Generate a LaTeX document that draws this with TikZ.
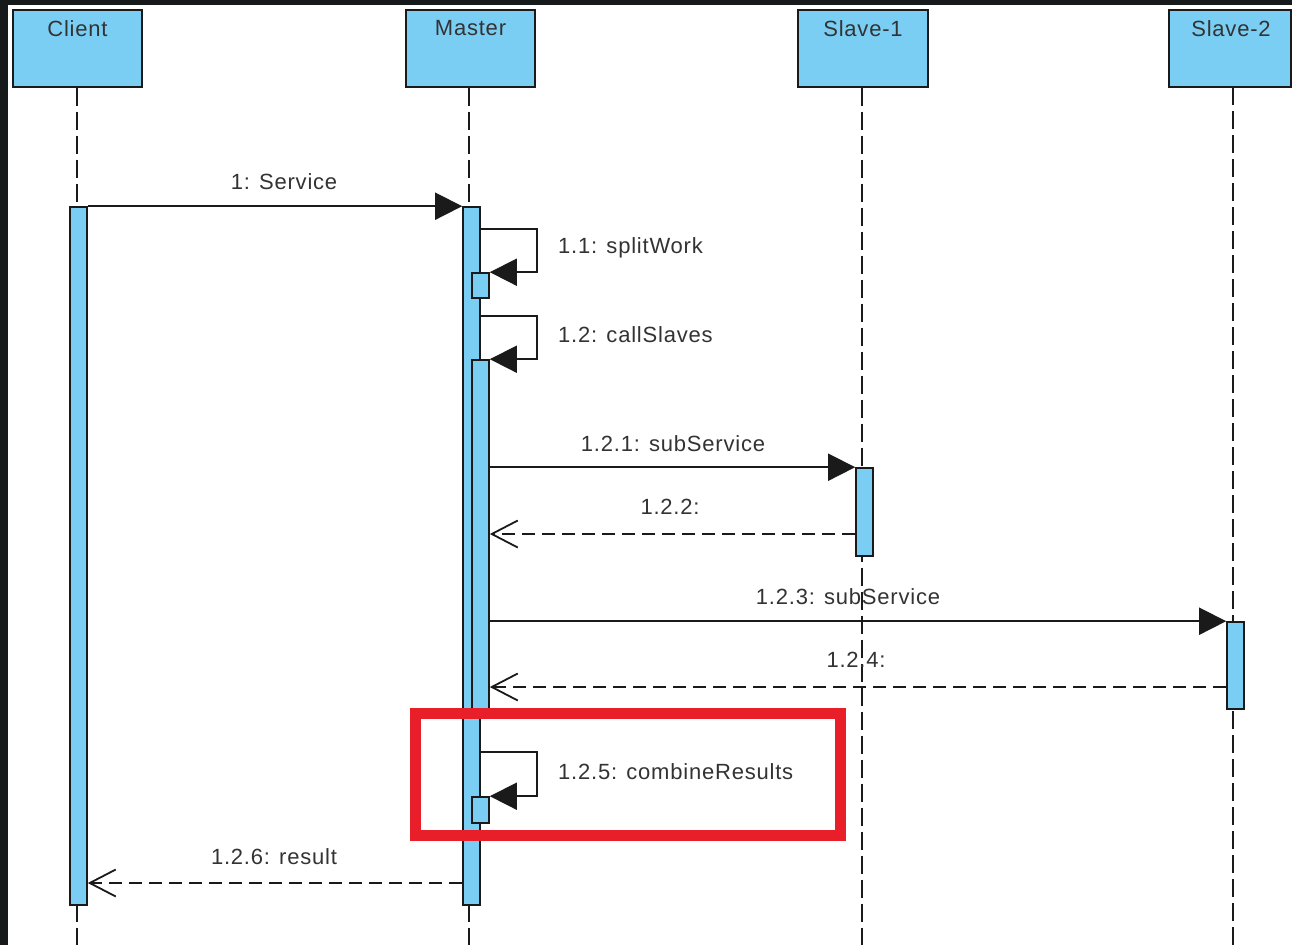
\documentclass[tikz,border=0pt]{standalone}
\usepackage{fontspec}
\setmainfont{Liberation Sans}
\usetikzlibrary{arrows.meta}
\definecolor{lifeblue}{RGB}{122,206,244}
\definecolor{ink}{RGB}{26,26,26}
\definecolor{txt}{RGB}{51,51,51}
\definecolor{frame}{RGB}{22,26,26}
\definecolor{hl}{RGB}{232,30,40}
\begin{document}
\begin{tikzpicture}[x=1pt,y=-1pt,
  head/.style={draw=ink, line width=1.6pt, fill=lifeblue, rectangle, inner sep=0pt, minimum height=77pt},
  bar/.style={draw=ink, line width=1.6pt, fill=lifeblue, rectangle, inner sep=0pt, minimum width=17pt},
  life/.style={draw=ink, line width=1.6pt, dash pattern=on 18pt off 6pt},
  msg/.style={draw=ink, line width=1.8pt, -{Triangle[length=27pt,width=27pt]}},
  ret/.style={draw=ink, line width=1.8pt, dash pattern=on 13pt off 7pt, -{Straight Barb[length=26pt,width=27pt]}},
  lbl/.style={text=txt, font=\fontsize{22}{26}\selectfont\addfontfeatures{LetterSpace=3.6}, inner sep=0pt},
  hdl/.style={lbl, anchor=north, yshift=-11pt},
]
\useasboundingbox (0,0) rectangle (1292,945);
\fill[frame] (0,0) rectangle (1292,945);
\fill[white] (8,5) rectangle (1292,945);

% heads
\node[head, minimum width=129pt, label={[hdl]north:Client}] (client) at (77.5,48.5) {};
\node[head, minimum width=129pt, label={[hdl]north:Master}] (master) at (470.5,48.5) {};
\node[head, minimum width=130pt, label={[hdl]north:Slave-1}] (slave1) at (863,48.5) {};
\node[head, minimum width=122pt, label={[hdl, xshift=1pt]north:Slave-2}] (slave2) at (1230,48.5) {};

% lifelines
\coordinate (cend) at (77,945);
\coordinate (mend) at (469,945);
\coordinate (s1end) at (862,945);
\coordinate (s2top) at (1233,87);
\coordinate (s2end) at (1233,945);
\draw[life] (client.south -| cend) -- (cend);
\draw[life] (master.south -| mend) -- (mend);
\draw[life] (slave1.south -| s1end) -- (s1end);
\draw[life] (s2top) -- (s2end);

% activation bars
\node[bar, minimum height=698pt] (cbar) at (78.5,556) {};
\node[bar, minimum height=698pt] (mbar) at (471.5,556) {};
\node[bar, minimum height=25pt] (m11) at (480.5,285.5) {};
\node[bar, minimum height=352pt] (m12) at (480.5,536) {};
\node[bar, minimum height=26pt] (m125) at (480.5,810) {};
\node[bar, minimum height=88pt] (s1bar) at (864.5,512) {};
\node[bar, minimum height=87pt] (s2bar) at (1235.5,665.5) {};

% messages
\draw[msg] (cbar.north east) -- (mbar.north west);
\draw[msg] (mbar.east |- 0,229) -- (537,229) |- (m11.north east);
\draw[msg] (mbar.east |- 0,316) -- (537,316) |- (m12.north east);
\draw[msg] (m12.east |- s1bar.north) -- (s1bar.north west);
\draw[ret] (s1bar.west |- 0,534) -- (m12.east |- 0,534);
\draw[msg] (m12.east |- s2bar.north) -- (s2bar.north west);
\draw[ret] (s2bar.west |- 0,687) -- (m12.east |- 0,687);
\draw[msg] (mbar.east |- 0,752) -- (537,752) |- (m125.north east);
\draw[ret] (mbar.west |- 0,883) -- (cbar.east |- 0,883);

% labels
\node[lbl] (l1) at (284,182) {1: Service};
\node[lbl, anchor=west] (l11) at (558,248) {1.1: splitWork};
\node[lbl, anchor=west] (l12) at (558,335) {1.2: callSlaves};
\node[lbl] (l121) at (673,444) {1.2.1: subService};
\node[lbl] (l122) at (670,507) {1.2.2:};
\node[lbl] (l123) at (848,597) {1.2.3: subService};
\node[lbl] (l124) at (856,660) {1.2.4:};
\node[lbl, anchor=west] (l125) at (558,772) {1.2.5: combineResults};
\node[lbl] (l126) at (274,857) {1.2.6: result};

% highlight
\node[draw=hl, line width=11pt, minimum width=425pt, minimum height=122pt, inner sep=0pt] (focus) at (627.5,774.5) {};
\end{tikzpicture}
\end{document}
